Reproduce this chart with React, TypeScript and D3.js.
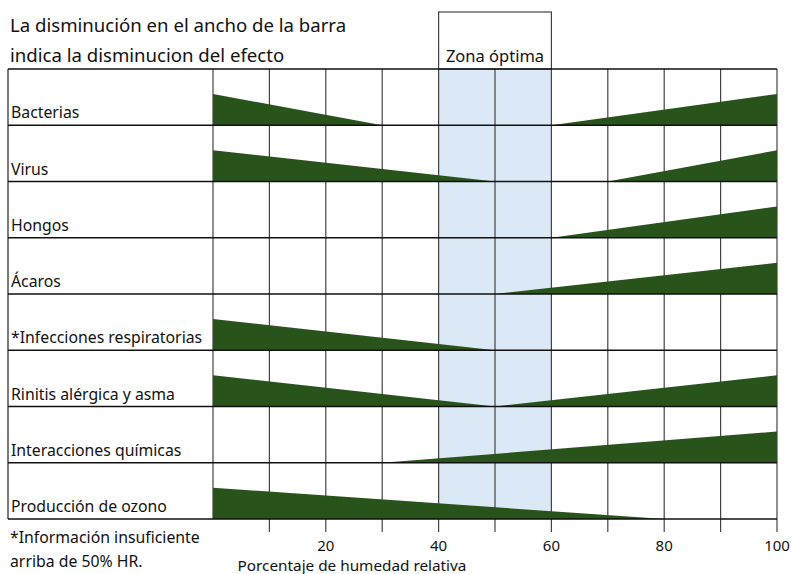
import React from "react";
import * as d3 from "d3";

// Rows and the humidity ranges where each effect decreases / increases
const CATEGORIES = [
  "Bacterias",
  "Virus",
  "Hongos",
  "Ácaros",
  "*Infecciones respiratorias",
  "Rinitis alérgica y asma",
  "Interacciones químicas",
  "Producción de ozono",
];
// falling wedge: full effect at LOW_FROM, none at LOW_TO
const LOW_FROM = [0, 0, null, null, 0, 0, null, 0];
const LOW_TO = [30, 50, null, null, 50, 50, null, 80];
// rising wedge: no effect at HIGH_FROM, full effect at HIGH_TO
const HIGH_FROM = [60, 70, 60, 50, null, 50, 30, null];
const HIGH_TO = [100, 100, 100, 100, null, 100, 100, null];

const GRID_TICKS = [0, 10, 20, 30, 40, 50, 60, 70, 80, 90, 100];
const TICK_LABELS = [20, 40, 60, 80, 100];
const OPTIMAL = [40, 60];

const W = 792;
const H = 574;
const LEFT = 8;
const TOP = 69;
const BOTTOM = 519;
const FONT = "'Noto Sans', sans-serif";
const GREEN = "#28531a";

export default function App() {
  const x = d3.scaleLinear().domain([0, 100]).range([213, 777]);
  const rows = d3.scaleBand<string>().domain(CATEGORIES).range([TOP, BOTTOM]);
  const bw = rows.bandwidth();
  // effect size 0..1 → wedge thickness
  const thick = d3.scaleLinear().domain([0, 1]).range([0, bw * 0.555]);

  const area = d3
    .area<[number, number]>()
    .x((d) => x(d[0]))
    .y0(0)
    .y1((d) => -thick(d[1]));

  return (
    <svg width={W} height={H} style={{ position: "absolute", left: 0, top: 0 }}>
      <rect width={W} height={H} fill="#fff" />
      {/* title */}
      <text x={10} y={32} fontFamily={FONT} fontSize={18.6} fill="#111">
        La disminución en el ancho de la barra
      </text>
      <text x={10} y={62} fontFamily={FONT} fontSize={18.6} fill="#111">
        indica la disminucion del efecto
      </text>

      {/* optimal zone */}
      <rect
        x={x(OPTIMAL[0])}
        y={TOP}
        width={x(OPTIMAL[1]) - x(OPTIMAL[0])}
        height={BOTTOM - TOP}
        fill="#dbe8f6"
      />
      <rect
        x={x(OPTIMAL[0])}
        y={12}
        width={x(OPTIMAL[1]) - x(OPTIMAL[0])}
        height={TOP - 12}
        fill="none"
        stroke="#444"
        strokeWidth={1.2}
      />
      <text
        x={(x(OPTIMAL[0]) + x(OPTIMAL[1])) / 2}
        y={62}
        textAnchor="middle"
        fontFamily={FONT}
        fontSize={16.5}
        fill="#111"
      >
        Zona óptima
      </text>

      {/* vertical grid + ticks */}
      {GRID_TICKS.map((t) => (
        <line
          key={t}
          x1={x(t)}
          x2={x(t)}
          y1={TOP}
          y2={t === 0 ? BOTTOM : BOTTOM + 13}
          stroke="#444"
          strokeWidth={1.2}
        />
      ))}
      <line x1={LEFT} x2={LEFT} y1={TOP} y2={BOTTOM} stroke="#222" strokeWidth={1.2} />

      {/* wedges */}
      {CATEGORIES.map((c, i) => {
        const base = (rows(c) ?? 0) + bw;
        const lf = LOW_FROM[i];
        const lt = LOW_TO[i];
        const hf = HIGH_FROM[i];
        const ht = HIGH_TO[i];
        return (
          <g key={c} transform={`translate(0,${base})`}>
            {lf != null && lt != null && (
              <path d={area([[lf, 1], [lt, 0]]) ?? ""} fill={GREEN} />
            )}
            {hf != null && ht != null && (
              <path d={area([[hf, 0], [ht, 1]]) ?? ""} fill={GREEN} />
            )}
          </g>
        );
      })}

      {/* row lines + labels */}
      {[...CATEGORIES.map((c) => rows(c) ?? 0), BOTTOM].map((y, i) => (
        <line key={i} x1={LEFT} x2={x(100)} y1={y} y2={y} stroke="#111" strokeWidth={1.3} />
      ))}
      {CATEGORIES.map((c) => (
        <text
          key={c}
          x={11}
          y={(rows(c) ?? 0) + bw - 7}
          fontFamily={FONT}
          fontSize={15.8}
          fill="#111"
        >
          {c}
        </text>
      ))}

      {/* axis labels */}
      {TICK_LABELS.map((t) => (
        <text
          key={t}
          x={x(t)}
          y={551}
          textAnchor="middle"
          fontFamily={FONT}
          fontSize={15}
          fill="#111"
        >
          {t}
        </text>
      ))}
      <text x={352} y={571} textAnchor="middle" fontFamily={FONT} fontSize={15.3} fill="#111">
        Porcentaje de humedad relativa
      </text>

      {/* footnote */}
      <text x={10} y={543} fontFamily={FONT} fontSize={15.8} fill="#111">
        *Información insuficiente
      </text>
      <text x={10} y={567} fontFamily={FONT} fontSize={15.8} fill="#111">
        arriba de 50% HR.
      </text>
    </svg>
  );
}
